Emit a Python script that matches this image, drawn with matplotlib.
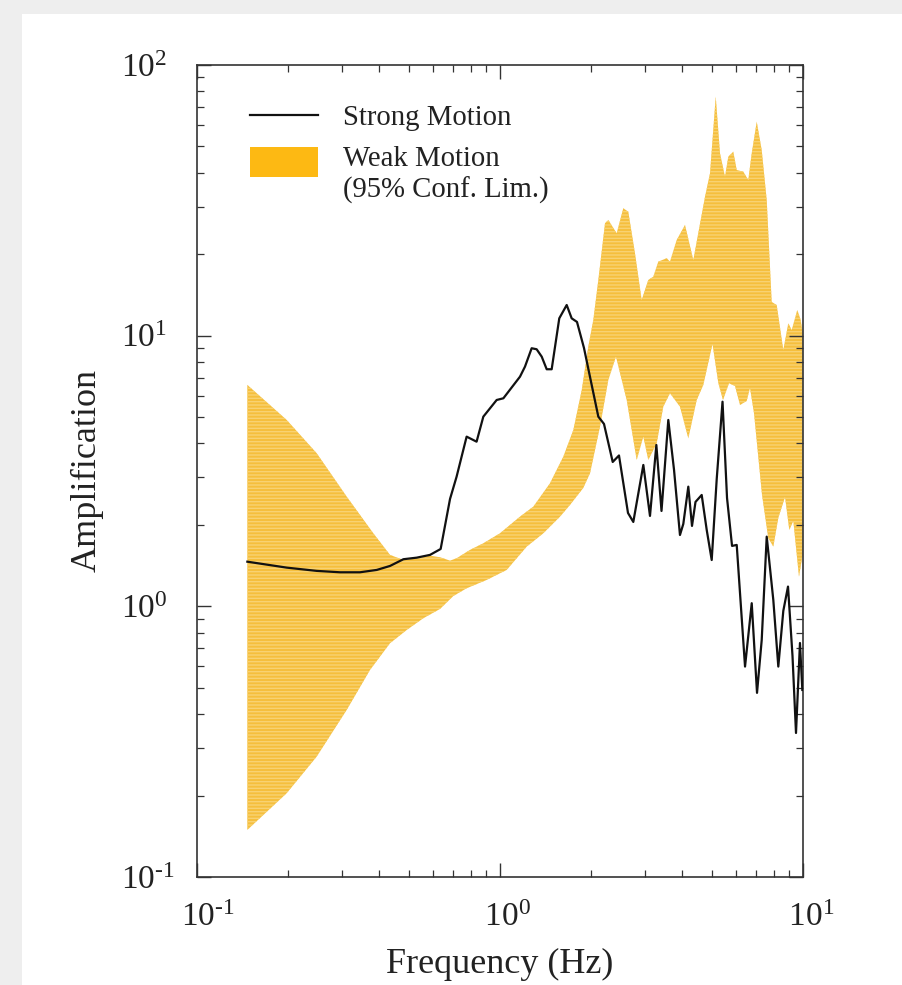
import numpy as np
import matplotlib
matplotlib.use("Agg")
import matplotlib.pyplot as plt
from matplotlib.lines import Line2D
from matplotlib.patches import Patch, Rectangle
from matplotlib.legend_handler import HandlerPatch
from matplotlib.ticker import FuncFormatter

plt.rcParams['font.family'] = ['Liberation Serif', 'DejaVu Serif']
plt.rcParams['mathtext.fontset'] = 'custom'
plt.rcParams['mathtext.rm'] = 'Liberation Serif'
plt.rcParams['mathtext.it'] = 'Liberation Serif:italic'
plt.rcParams['mathtext.bf'] = 'Liberation Serif:bold'
plt.rcParams['hatch.linewidth'] = 1.0

# ---------------- data ----------------
strong_freq = [0.1466, 0.1977, 0.2483, 0.2965, 0.345, 0.392, 0.4335, 0.480, 0.531, 0.5875,
               0.637, 0.684, 0.719, 0.776, 0.837, 0.881, 0.975, 1.026, 1.164, 1.209,
               1.272, 1.321, 1.373, 1.426, 1.481, 1.569, 1.660, 1.724, 1.795, 1.893,
               1.982, 2.111, 2.204, 2.355, 2.470, 2.645, 2.754, 2.972, 3.126, 3.281,
               3.412, 3.593, 3.753, 3.926, 4.027, 4.183, 4.302, 4.418, 4.631, 4.811,
               4.997, 5.191, 5.425, 5.614, 5.832, 6.043, 6.437, 6.773, 7.051, 7.307,
               7.590, 7.980, 8.289, 8.610, 8.923, 9.233, 9.482, 9.772, 9.95]
strong_amp = [1.462, 1.390, 1.352, 1.336, 1.336, 1.363, 1.410, 1.493, 1.513, 1.549,
              1.629, 2.493, 3.013, 4.236, 4.058, 5.021, 5.786, 5.870, 7.055, 7.683,
              8.985, 8.909, 8.365, 7.515, 7.515, 11.59, 12.98, 11.59, 11.24, 9.008,
              7.037, 5.021, 4.719, 3.415, 3.609, 2.213, 2.050, 3.329, 2.158, 3.946,
              2.251, 4.882, 3.191, 1.835, 2.016, 2.768, 1.982, 2.431, 2.579, 1.915,
              1.483, 2.955, 5.703, 2.514, 1.672, 1.686, 0.599, 1.027, 0.479, 0.751,
              1.809, 1.056, 0.599, 0.962, 1.183, 0.656, 0.3405, 0.732, 0.491]

weak_upper_freq = [0.1466, 0.1977, 0.2483, 0.3120, 0.3818, 0.4335, 0.480, 0.531, 0.5875, 0.6339,
                   0.684, 0.719, 0.796, 0.881, 1.0, 1.164, 1.288, 1.462, 1.618, 1.746,
                   1.861, 1.956, 2.032, 2.111, 2.221, 2.278, 2.427, 2.552, 2.651, 2.789,
                   2.935, 3.086, 3.206, 3.330, 3.550, 3.639, 3.830, 4.079, 4.345, 4.749,
                   4.933, 5.152, 5.322, 5.528, 5.668, 5.888, 6.043, 6.353, 6.598, 6.773,
                   7.035, 7.307, 7.590, 7.883, 8.188, 8.610, 8.944, 9.178, 9.576, 9.827, 9.97]
weak_upper_amp = [6.577, 4.882, 3.678, 2.542, 1.862, 1.549, 1.483, 1.505, 1.539, 1.518,
                  1.475, 1.505, 1.616, 1.710, 1.862, 2.145, 2.335, 2.849, 3.573, 4.484,
                  6.300, 9.108, 11.43, 16.06, 26.02, 26.76, 23.89, 29.55, 28.71, 20.16,
                  13.55, 16.06, 16.52, 18.77, 19.32, 18.77, 22.57, 25.64, 19.04, 32.62,
                  39.80, 76.37, 47.19, 38.67, 45.84, 47.83, 40.94, 40.35, 37.60, 47.19,
                  61.73, 48.53, 31.72, 13.32, 12.98, 8.856, 11.11, 10.49, 12.44, 11.43, 10.23]

weak_lower_freq = [0.1466, 0.1977, 0.2483, 0.3120, 0.3724, 0.4335, 0.4922, 0.5583, 0.6339, 0.7015,
                   0.776, 0.9040, 1.052, 1.225, 1.390, 1.578, 1.702, 1.883, 1.982, 2.138,
                   2.278, 2.414, 2.619, 2.826, 2.972, 3.086, 3.290, 3.459, 3.639, 3.926,
                   4.183, 4.459, 4.688, 5.027, 5.254, 5.445, 5.698, 5.965, 6.197, 6.518,
                   6.684, 6.892, 7.324, 7.680, 7.980, 8.289, 8.722, 9.012, 9.290, 9.700, 9.97]
weak_lower_amp = [0.1493, 0.2040, 0.2785, 0.4145, 0.5821, 0.7307, 0.818, 0.9037, 0.978, 1.092,
                  1.166, 1.252, 1.363, 1.662, 1.862, 2.145, 2.369, 2.738, 3.102, 4.611,
                  6.862, 8.365, 5.786, 3.474, 4.236, 3.474, 4.004, 5.467, 6.127, 5.467,
                  4.178, 5.786, 6.577, 9.318, 6.687, 5.786, 6.670, 6.518, 5.546, 5.738,
                  6.408, 5.168, 2.579, 1.789, 1.662, 2.121, 2.536, 1.915, 2.068, 1.287, 1.549]

x_label = "Frequency (Hz)"
y_label = "Amplification"
strong_label = "Strong Motion"
weak_label = "Weak Motion\n(95% Conf. Lim.)"

# ---------------- figure ----------------
fig = plt.figure(figsize=(9.02, 9.85), dpi=100, facecolor='#eeeeee')
bg = Rectangle((22 / 902, 0), 1 - 22 / 902, 1 - 14 / 985,
               transform=fig.transFigure, facecolor='white',
               edgecolor='none', zorder=-10)
fig.add_artist(bg)

ax = fig.add_axes([197 / 902, 1 - 877 / 985, 606 / 902, 812 / 985])
ax.set_zorder(1)
ax.set_facecolor('white')
ax.set_xscale('log')
ax.set_yscale('log')

fill_color = '#F5BF3D'
poly_x = np.concatenate([weak_upper_freq, weak_lower_freq[::-1]])
poly_y = np.concatenate([weak_upper_amp, weak_lower_amp[::-1]])
ax.fill(poly_x, poly_y, facecolor=fill_color, edgecolor='#F8D272', hatch='-----',
        linewidth=0, zorder=1)

ax.plot(strong_freq, strong_amp, color='#111111', lw=1.6, zorder=3)

ax.set_xlim(0.1, 10)
ax.set_ylim(0.1, 100)


def _exp_str(v):
    e = int(round(np.log10(v)))
    return (r'\text{-}%d' % (-e) if e < 0 else '%d' % e), e


def y_fmt(v, pos):
    s, e = _exp_str(v)
    return r'$\mathregular{10^{%s}}$' % s


def x_fmt(v, pos):
    # leading space keeps the "10" roughly centred on the tick
    s, e = _exp_str(v)
    sp = 0.92 if e < 0 else 0.70
    return r'$\mathregular{\hspace{%.2f}10^{%s}}$' % (sp, s)


ax.xaxis.set_major_formatter(FuncFormatter(x_fmt))
ax.yaxis.set_major_formatter(FuncFormatter(y_fmt))

for s in ax.spines.values():
    s.set_linewidth(1.2)
    s.set_color('#333333')

ax.tick_params(which='both', direction='in', top=True, right=True, colors='#333333',
               labelcolor='#222222')
ax.tick_params(which='major', length=10, width=1.0, labelsize=24)
ax.tick_params(which='minor', length=5, width=0.9)
ax.tick_params(axis='x', which='major', pad=18.5)
ax.tick_params(axis='y', which='major', pad=55)
for lab in ax.get_yticklabels():
    lab.set_horizontalalignment('left')

ax.set_xlabel(x_label, fontsize=26, color='#222222')
ax.set_ylabel(y_label, fontsize=26, color='#222222')
ax.xaxis.set_label_coords(0.5, -0.087)
ax.yaxis.set_label_coords(-0.154, 0.5)

# legend: two pieces so that row spacing matches
leg_fs = 20.7
leg1 = ax.legend([Line2D([], [], color='#111111', lw=1.6)], [strong_label],
                 loc='upper left', bbox_to_anchor=(0.0875, 0.951), frameon=False,
                 fontsize=leg_fs, handlelength=2.37, handletextpad=0.85,
                 borderpad=0, borderaxespad=0)
ax.add_artist(leg1)


def shifted_patch(legend, orig_handle, xdescent, ydescent, width, height, fontsize):
    return Rectangle((-xdescent, -ydescent + 0.46 * fontsize), width, height)


leg2 = ax.legend([Patch(facecolor='#FDB913', edgecolor='none')], [weak_label],
                 loc='upper left', bbox_to_anchor=(0.0875, 0.900), frameon=False,
                 fontsize=leg_fs, handlelength=2.37, handleheight=1.2,
                 handletextpad=0.85, borderpad=0, borderaxespad=0,
                 handler_map={Patch: HandlerPatch(patch_func=shifted_patch)})
for lg in (leg1, leg2):
    for t in lg.get_texts():
        t.set_color('#222222')
        t.set_linespacing(1.2)

fig.savefig('out.png', dpi=100, facecolor=fig.get_facecolor())
